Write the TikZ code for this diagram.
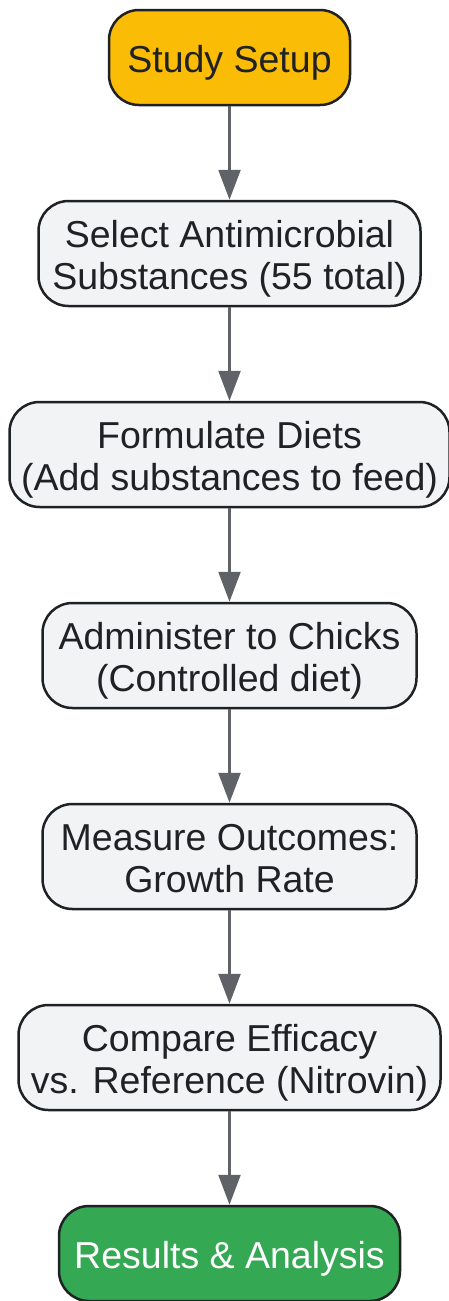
\documentclass[tikz,border=0pt]{standalone}
\usepackage{fontspec}
\setmainfont{Liberation Sans}
\usepackage{tikz}
\usetikzlibrary{arrows.meta, positioning}
\definecolor{setupYellow}{HTML}{FBBC05}
\definecolor{resultGreen}{HTML}{34A853}
\definecolor{boxGray}{HTML}{F1F3F4}
\definecolor{edgeDark}{HTML}{202124}
\definecolor{arrowGray}{HTML}{5F6368}
\tikzset{
    flowBox/.style={
        rectangle,
        rounded corners=30pt,
        draw=edgeDark,
        fill=boxGray,
        line width=2.5pt,
        text=edgeDark,
        align=center,
        inner sep=0pt,
        minimum height=105pt,
        text height=71pt,
        text depth=0pt,
        font=\fontsize{37.5}{42}\selectfont
    },
    endBox/.style={
        flowBox,
        minimum height=95pt,
        text height=29pt
    },
    flowArrow/.style={
        draw=arrowGray,
        line width=2.5pt,
        -{Triangle[length=30pt, width=22pt]}
    }
}

\begin{document}
\begin{tikzpicture}[node distance=93.5pt]
            \useasboundingbox (0pt,0pt) rectangle (448pt,-1301pt);

            % Nodes
            \node[endBox, fill=setupYellow, minimum width=241pt] (Setup) at (229.5pt,-57.5pt) {Study Setup};
            \node[flowBox, minimum width=382pt, below=of Setup] (Select) {Select Antimicrobial\\Substances (55 total)};
            \node[flowBox, minimum width=440pt, below=of Select] (Diets) {Formulate Diets\\(Add substances to feed)};
            \node[flowBox, minimum width=374pt, below=of Diets] (Chicks) {Administer to Chicks\\(Controlled diet)};
            \node[flowBox, minimum width=374pt, below=of Chicks] (Outcomes) {Measure Outcomes:\\Growth Rate};
            \node[flowBox, minimum width=422pt, below=of Outcomes] (Compare) {Compare Efficacy\\vs. Reference (Nitrovin)};
            \node[endBox, fill=resultGreen, text=white, minimum width=341pt, below=of Compare] (Results) {Results \& Analysis};

            % Arrows
            \draw[flowArrow] (Setup) -- (Select);
            \draw[flowArrow] (Select) -- (Diets);
            \draw[flowArrow] (Diets) -- (Chicks);
            \draw[flowArrow] (Chicks) -- (Outcomes);
            \draw[flowArrow] (Outcomes) -- (Compare);
            \draw[flowArrow] (Compare) -- (Results);
        \end{tikzpicture}
\end{document}
